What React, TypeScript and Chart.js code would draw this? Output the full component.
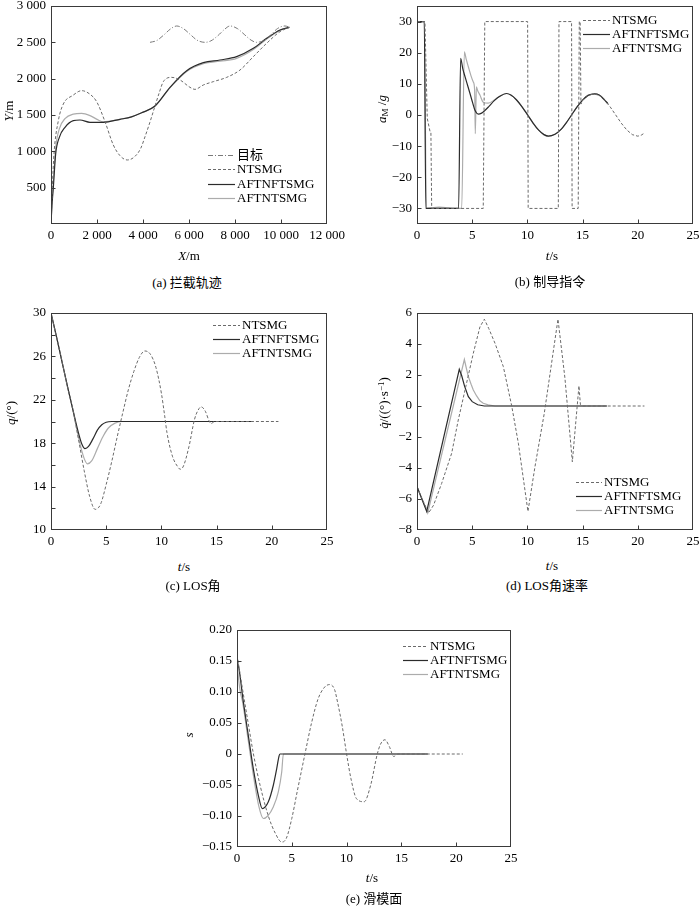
import React, { useEffect, useRef } from 'react';
import { Chart, registerables } from 'chart.js';

Chart.register(...registerables);

const FONT = '"Liberation Serif", "Times New Roman", "Noto Sans CJK SC", serif';

// ---------- (a) interception trajectory ----------
const A_TARGET_X = [4304, 4600, 4900, 5200, 5464, 5750, 6050, 6350, 6696, 6950, 7250, 7550, 7783, 8100, 8400, 8700, 8942, 9250, 9550, 9850, 10174, 10391];
const A_TARGET_Y = [2500, 2525, 2600, 2685, 2725, 2690, 2610, 2530, 2500, 2520, 2590, 2680, 2725, 2690, 2610, 2530, 2500, 2525, 2600, 2690, 2725, 2706];
const A_NTS_X = [0, 58, 130, 319, 536, 950, 1333, 1700, 1986, 2348, 2710, 3000, 3319, 3650, 3900, 4087, 4300, 4522, 4700, 4884, 5246, 5609, 6043, 6261, 6623, 7058, 7638, 8217, 8797, 9377, 9957, 10362];
const A_NTS_Y = [0, 500, 964, 1422, 1651, 1770, 1835, 1785, 1683, 1408, 1087, 940, 881, 930, 1040, 1201, 1400, 1624, 1800, 1959, 2018, 1982, 1881, 1853, 1913, 1959, 2018, 2119, 2303, 2487, 2647, 2706];
const A_AFTNF_X = [0, 40, 101, 203, 362, 609, 971, 1260, 1696, 2275, 3000, 3500, 3942, 4522, 5174, 5899, 6623, 7348, 8072, 8797, 9377, 9957, 10362];
const A_AFTNF_Y = [0, 250, 500, 964, 1193, 1330, 1422, 1431, 1399, 1399, 1441, 1475, 1530, 1624, 1881, 2110, 2220, 2257, 2303, 2417, 2555, 2670, 2706];
const A_AFTN_X = [0, 40, 101, 203, 362, 609, 971, 1333, 1696, 2000, 2275, 3000, 3500, 3942, 4522, 5174, 5899, 6623, 7348, 8072, 8797, 9377, 9957, 10362];
const A_AFTN_Y = [0, 270, 580, 1050, 1310, 1450, 1512, 1523, 1492, 1440, 1405, 1441, 1475, 1530, 1624, 1875, 2100, 2205, 2240, 2280, 2400, 2545, 2665, 2706];
const A_X_TICKS = [0, 2000, 4000, 6000, 8000, 10000, 12000];
const A_Y_TICKS = [0, 500, 1000, 1500, 2000, 2500, 3000];

// ---------- (b) guidance command ----------
const B_NTS_T = [0, 0.72, 0.93, 1.18, 1.26, 1.33, 6.0, 6.14, 10.02, 10.07, 12.8, 12.86, 14.0, 14.05, 14.6, 14.7, 14.78, 14.85, 15.0, 15.5, 16.0, 16.5, 17.0, 17.5, 18.0, 18.5, 19.0, 19.5, 20.0, 20.3, 20.6];
const B_NTS_A = [30, 30, -1.1, -5.3, -5.5, -30, -30, 30, 30, -30, -30, 30, 30, -30, -30, 30, 30, 3.5, 4.8, 6.2, 6.8, 6.3, 4.8, 2.6, 0, -2.6, -4.8, -6.3, -6.8, -6.5, -5.8];
const B_AFTNF_T = [0, 0.66, 0.8, 3.77, 3.95, 4.15, 4.35, 4.6, 4.8, 5.05, 5.25, 5.55, 5.85, 6.1, 6.5, 7.0, 7.5, 8.1, 8.5, 9.0, 9.5, 10.0, 10.5, 11.0, 11.5, 11.9, 12.5, 13.0, 13.5, 14.0, 14.5, 15.0, 15.5, 16.1, 16.5, 17.0, 17.3];
const B_AFTNF_A = [30, 30, -30, -30, 18.2, 14.8, 12.3, 9.3, 6.9, 3.8, 1.5, 0.3, 0.6, 1.3, 2.7, 4.6, 6.0, 6.9, 6.4, 4.9, 2.7, 0.1, -2.5, -4.8, -6.3, -6.8, -6.2, -4.8, -2.6, 0, 2.6, 4.8, 6.3, 6.8, 6.4, 4.8, 3.6];
const B_AFTN_T = [0, 0.66, 0.85, 1.5, 2.0, 2.6, 3.2, 4.05, 4.29, 4.45, 4.65, 4.9, 5.1, 5.22, 5.28, 5.38, 5.5, 5.7, 6.0, 6.45, 7.0, 7.5, 8.1, 8.5, 9.0, 9.5, 10.0, 10.5, 11.0, 11.5, 11.9, 12.5, 13.0, 13.5, 14.0, 14.5, 15.0, 15.5, 16.1, 16.5, 17.0, 17.3];
const B_AFTN_A = [30, 30, -30, -29.7, -29.6, -29.7, -30, -30, 20.3, 18.0, 15.5, 12.5, 10.6, 8.0, -6.0, 9.0, 7.8, 6.4, 4.1, 3.8, 4.8, 6.0, 6.9, 6.4, 4.9, 2.7, 0.1, -2.5, -4.8, -6.3, -6.8, -6.2, -4.8, -2.6, 0, 2.6, 4.8, 6.3, 6.8, 6.4, 4.8, 3.6];
const B_X_TICKS = [0, 5, 10, 15, 20, 25];
const B_Y_TICKS = [-30, -20, -10, 0, 10, 20, 30];

// ---------- (c) LOS angle ----------
const C_NTS_T = [0, 0.5, 1, 1.5, 2, 2.5, 3, 3.5, 4, 4.5, 5, 5.5, 6, 6.5, 7, 7.5, 8, 8.5, 9, 9.5, 10, 10.3, 10.5, 11, 11.5, 11.7, 12, 12.5, 13, 13.3, 13.6, 14, 14.3, 14.5, 14.8, 15.2, 20.6];
const C_NTS_Q = [30, 27.8, 25.5, 23.2, 21.0, 18.3, 15.5, 13.1, 11.9, 12.4, 14.2, 16.3, 18.6, 20.8, 22.9, 24.6, 25.9, 26.5, 26.2, 25.0, 22.6, 20.5, 19.0, 16.8, 15.8, 15.6, 15.9, 17.7, 20.2, 21.0, 21.35, 20.9, 20.1, 19.8, 20.0, 20.0, 20.0];
const C_AFTNF_T = [0, 0.5, 1, 1.5, 2, 2.5, 2.8, 3.08, 3.4, 3.8, 4.2, 4.6, 5, 5.5, 18.3];
const C_AFTNF_Q = [30, 27.8, 25.5, 23.2, 21.0, 18.9, 17.9, 17.5, 17.7, 18.4, 19.2, 19.7, 19.93, 20, 20];
const C_AFTN_T = [0, 0.5, 1, 1.5, 2, 2.5, 3, 3.3, 3.7, 4.2, 4.7, 5.2, 5.8, 6.4, 18.3];
const C_AFTN_Q = [30, 27.8, 25.5, 23.2, 21.0, 18.5, 16.6, 16.1, 16.4, 17.5, 18.6, 19.4, 19.85, 20, 20];
const C_X_TICKS = [0, 5, 10, 15, 20, 25];
const C_Y_TICKS = [10, 12, 14, 16, 18, 20, 22, 24, 26, 28, 30];
const C_Y_LABELED = [10, 14, 18, 22, 26, 30];

// ---------- (d) LOS rate ----------
const D_NTS_T = [0, 0.5, 1.05, 1.5, 2.23, 3.14, 3.74, 4.35, 5.1, 5.7, 6.1, 6.5, 7.07, 7.82, 8.58, 9.18, 10.05, 10.69, 11.53, 12.77, 13.4, 14.07, 14.67, 14.8, 15.0, 20.6];
const D_NTS_V = [-5.2, -6.05, -6.9, -6.4, -5.0, -3.05, -0.9, 1.03, 3.4, 5.1, 5.6, 5.0, 4.04, 2.54, 0, -2.4, -6.8, -3.9, -0.47, 5.6, 1.8, -3.6, 1.3, 0.1, 0, 0];
const D_AFTNF_T = [0, 0.88, 3.83, 4.05, 4.3, 4.65, 5.0, 5.5, 6.1, 17.2];
const D_AFTNF_V = [-5.2, -6.8, 2.37, 1.95, 1.3, 0.6, 0.28, 0.08, 0, 0];
const D_AFTN_T = [0, 0.97, 4.29, 4.45, 4.65, 4.9, 5.1, 5.4, 5.7, 6.0, 6.45, 7.06, 17.2];
const D_AFTN_V = [-5.2, -6.9, 3.0, 2.5, 1.9, 1.4, 1.03, 0.65, 0.34, 0.18, 0.07, 0, 0];
const D_X_TICKS = [0, 5, 10, 15, 20, 25];
const D_Y_TICKS = [-8, -6, -4, -2, 0, 2, 4, 6];

// ---------- (e) sliding surface ----------
const E_NTS_T = [0, 0.5, 1.0, 1.5, 2.1, 2.86, 3.5, 4.08, 4.5, 5.0, 5.5, 6.2, 6.8, 7.4, 8.0, 8.45, 8.9, 9.17, 9.6, 10.0, 10.4, 10.9, 11.6, 12.2, 12.8, 13.1, 13.5, 13.9, 14.3, 14.7, 15.0, 20.6];
const E_NTS_S = [0.16, 0.105, 0.052, 0.0, -0.05, -0.10, -0.128, -0.142, -0.136, -0.104, -0.06, 0, 0.05, 0.089, 0.108, 0.112, 0.104, 0.084, 0.045, 0, -0.04, -0.072, -0.077, -0.05, 0, 0.016, 0.023, 0.012, -0.004, 0, 0, 0];
const E_AFTNF_T = [0, 0.05, 0.18, 0.58, 1.03, 1.49, 1.95, 2.31, 2.86, 3.32, 3.62, 3.84, 3.93, 17.4];
const E_AFTNF_S = [0.165, 0.15, 0.138, 0.084, 0.030, -0.024, -0.067, -0.088, -0.077, -0.050, -0.024, -0.003, 0, 0];
const E_AFTN_T = [0, 0.15, 0.3, 0.5, 1.0, 1.5, 2.0, 2.4, 2.8, 3.32, 3.77, 4.08, 4.23, 17.4];
const E_AFTN_S = [0.15, 0.12, 0.1, 0.085, 0.025, -0.035, -0.085, -0.104, -0.1, -0.085, -0.061, -0.029, 0, 0];
const E_X_TICKS = [0, 5, 10, 15, 20, 25];
const E_Y_TICKS = [-0.15, -0.1, -0.05, 0, 0.05, 0.1, 0.15, 0.2];

// ---------- styles ----------
const STYLE: Record<string, { color: string; width: number; dash: number[] }> = {
  target: { color: '#7a7a7a', width: 1, dash: [5, 2, 1, 2] },
  nts: { color: '#6a6a6a', width: 1, dash: [3, 2] },
  aftnf: { color: '#2b2b2b', width: 1.2, dash: [] },
  aftn: { color: '#acacac', width: 1.2, dash: [] },
};

const minus = (s: string) => s.replace('-', '\u2212');
const thousands = (v: number) => {
  if (Math.abs(v) < 1000) return String(v);
  const k = Math.floor(v / 1000);
  const r = String(v % 1000).padStart(3, '0');
  return `${k} ${r}`;
};

type Series = { label: string; x: number[]; y: number[]; style: string; smooth: boolean };
type PanelSpec = {
  L: number; T: number; R: number; B: number;
  xMin: number; xMax: number; yMin: number; yMax: number;
  xTicks: number[]; yTicks: number[];
  xFmt: (v: number) => string; yFmt: (v: number) => string;
  series: Series[];
  legend: { x0: number; x1: number; tx: number; y: number; dy: number };
};

const PADL = 52, PADT = 12, PADR = 26, PADB = 24;

const frameTicks = {
  id: 'frameTicks',
  afterDraw(chart: any) {
    const { ctx, chartArea: a, scales } = chart;
    ctx.save();
    ctx.strokeStyle = '#3a3a3a';
    ctx.lineWidth = 1;
    ctx.setLineDash([]);
    const l = Math.round(a.left) + 0.5, t = Math.round(a.top) + 0.5;
    const r = Math.round(a.right) - 0.5, b = Math.round(a.bottom) - 0.5;
    ctx.strokeRect(l, t, r - l, b - t);
    ctx.beginPath();
    for (const tk of scales.x.ticks) {
      const px = Math.round(scales.x.getPixelForValue(tk.value)) + 0.5;
      if (px <= l + 1 || px >= r - 1) continue;
      ctx.moveTo(px, b); ctx.lineTo(px, b - 4);
    }
    for (const tk of scales.y.ticks) {
      const py = Math.round(scales.y.getPixelForValue(tk.value)) + 0.5;
      if (py <= t + 1 || py >= b - 1) continue;
      ctx.moveTo(l, py); ctx.lineTo(l + 4, py);
    }
    ctx.stroke();
    ctx.restore();
  },
};

const inLegend = {
  id: 'inLegend',
  afterDatasetsDraw(chart: any, _args: any, opts: any) {
    const { ctx, chartArea: a } = chart;
    ctx.save();
    chart.data.datasets.forEach((ds: any, i: number) => {
      const y = Math.round(a.top + opts.y + i * opts.dy) + 0.5;
      ctx.beginPath();
      ctx.setLineDash(ds.borderDash || []);
      ctx.strokeStyle = ds.borderColor;
      ctx.lineWidth = ds.borderWidth;
      ctx.moveTo(a.left + opts.x0, y);
      ctx.lineTo(a.left + opts.x1, y);
      ctx.stroke();
      ctx.setLineDash([]);
      ctx.fillStyle = '#000';
      ctx.font = `13px ${FONT}`;
      ctx.textBaseline = 'middle';
      ctx.textAlign = 'left';
      ctx.fillText(ds.label, a.left + opts.tx, y + 0.5);
    });
    ctx.restore();
  },
};

function Panel({ spec }: { spec: PanelSpec }) {
  const ref = useRef<HTMLCanvasElement | null>(null);
  const w = spec.R - spec.L + PADL + PADR;
  const h = spec.B - spec.T + PADT + PADB;
  useEffect(() => {
    if (!ref.current) return;
    const tickFont = { family: FONT, size: 13 };
    const chart = new Chart(ref.current, {
      type: 'line',
      data: {
        datasets: spec.series.map((s) => ({
          label: s.label,
          data: s.x.map((x, i) => ({ x, y: s.y[i] })),
          borderColor: STYLE[s.style].color,
          borderWidth: STYLE[s.style].width,
          borderDash: STYLE[s.style].dash,
          pointRadius: 0,
          fill: false,
          tension: 0,
          cubicInterpolationMode: s.smooth ? 'monotone' : 'default',
        })),
      } as any,
      options: {
        animation: false,
        responsive: false,
        maintainAspectRatio: false,
        events: [],
        layout: { padding: { top: PADT, right: PADR, left: 0, bottom: 0 } },
        plugins: {
          legend: { display: false },
          tooltip: { enabled: false },
          inLegend: spec.legend,
        } as any,
        scales: {
          x: {
            type: 'linear',
            min: spec.xMin,
            max: spec.xMax,
            grid: { display: false, drawTicks: false, tickLength: 0 },
            border: { display: false },
            afterBuildTicks: (s: any) => { s.ticks = spec.xTicks.map((v) => ({ value: v })); },
            afterFit: (s: any) => { s.height = PADB; s.paddingLeft = 0; s.paddingRight = 0; },
            ticks: {
              font: tickFont, color: '#000', padding: 4, maxRotation: 0, autoSkip: false,
              callback: (v: any) => spec.xFmt(Number(v)),
            },
          },
          y: {
            type: 'linear',
            min: spec.yMin,
            max: spec.yMax,
            grid: { display: false, drawTicks: false, tickLength: 0 },
            border: { display: false },
            afterBuildTicks: (s: any) => { s.ticks = spec.yTicks.map((v) => ({ value: v })); },
            afterFit: (s: any) => { s.width = PADL; s.paddingTop = 0; s.paddingBottom = 0; },
            ticks: {
              font: tickFont, color: '#000', padding: 5, autoSkip: false,
              callback: (v: any) => spec.yFmt(Number(v)),
            },
          },
        } as any,
      },
      plugins: [frameTicks, inLegend],
    } as any);
    return () => chart.destroy();
  }, [spec]);
  return (
    <canvas
      ref={ref}
      width={w}
      height={h}
      style={{ position: 'absolute', left: spec.L - PADL, top: spec.T - PADT, width: w, height: h }}
    />
  );
}

const numFmt = (v: number) => minus(String(v));

const PANELS: PanelSpec[] = [
  {
    L: 51, T: 6, R: 327, B: 224, xMin: 0, xMax: 12000, yMin: 0, yMax: 3000,
    xTicks: A_X_TICKS, yTicks: A_Y_TICKS,
    xFmt: (v) => thousands(v), yFmt: (v) => (v === 0 ? '' : thousands(v)),
    series: [
      { label: '目标', x: A_TARGET_X, y: A_TARGET_Y, style: 'target', smooth: true },
      { label: 'NTSMG', x: A_NTS_X, y: A_NTS_Y, style: 'nts', smooth: true },
      { label: 'AFTNFTSMG', x: A_AFTNF_X, y: A_AFTNF_Y, style: 'aftnf', smooth: true },
      { label: 'AFTNTSMG', x: A_AFTN_X, y: A_AFTN_Y, style: 'aftn', smooth: true },
    ],
    legend: { x0: 157, x1: 184, tx: 186, y: 149, dy: 14.3 },
  },
  {
    L: 417, T: 6, R: 693, B: 224, xMin: 0, xMax: 25, yMin: -35, yMax: 35,
    xTicks: B_X_TICKS, yTicks: B_Y_TICKS,
    xFmt: numFmt, yFmt: numFmt,
    series: [
      { label: 'NTSMG', x: B_NTS_T, y: B_NTS_A, style: 'nts', smooth: false },
      { label: 'AFTNFTSMG', x: B_AFTNF_T, y: B_AFTNF_A, style: 'aftnf', smooth: true },
      { label: 'AFTNTSMG', x: B_AFTN_T, y: B_AFTN_A, style: 'aftn', smooth: true },
    ],
    legend: { x0: 166, x1: 193, tx: 195, y: 14, dy: 14.2 },
  },
  {
    L: 51, T: 313, R: 327, B: 530, xMin: 0, xMax: 25, yMin: 10, yMax: 30,
    xTicks: C_X_TICKS, yTicks: C_Y_TICKS,
    xFmt: numFmt, yFmt: (v) => (C_Y_LABELED.includes(v) ? String(v) : ''),
    series: [
      { label: 'NTSMG', x: C_NTS_T, y: C_NTS_Q, style: 'nts', smooth: true },
      { label: 'AFTNFTSMG', x: C_AFTNF_T, y: C_AFTNF_Q, style: 'aftnf', smooth: true },
      { label: 'AFTNTSMG', x: C_AFTN_T, y: C_AFTN_Q, style: 'aftn', smooth: true },
    ],
    legend: { x0: 162, x1: 189, tx: 191, y: 12, dy: 14.2 },
  },
  {
    L: 417, T: 313, R: 693, B: 530, xMin: 0, xMax: 25, yMin: -8, yMax: 6,
    xTicks: D_X_TICKS, yTicks: D_Y_TICKS,
    xFmt: numFmt, yFmt: numFmt,
    series: [
      { label: 'NTSMG', x: D_NTS_T, y: D_NTS_V, style: 'nts', smooth: false },
      { label: 'AFTNFTSMG', x: D_AFTNF_T, y: D_AFTNF_V, style: 'aftnf', smooth: false },
      { label: 'AFTNTSMG', x: D_AFTN_T, y: D_AFTN_V, style: 'aftn', smooth: false },
    ],
    legend: { x0: 159, x1: 185, tx: 187, y: 169, dy: 13.8 },
  },
  {
    L: 237, T: 630, R: 511, B: 847, xMin: 0, xMax: 25, yMin: -0.15, yMax: 0.2,
    xTicks: E_X_TICKS, yTicks: E_Y_TICKS,
    xFmt: numFmt, yFmt: (v) => (Math.abs(v) < 1e-9 ? '0' : minus(v.toFixed(2))),
    series: [
      { label: 'NTSMG', x: E_NTS_T, y: E_NTS_S, style: 'nts', smooth: true },
      { label: 'AFTNFTSMG', x: E_AFTNF_T, y: E_AFTNF_S, style: 'aftnf', smooth: true },
      { label: 'AFTNTSMG', x: E_AFTN_T, y: E_AFTN_S, style: 'aftn', smooth: true },
    ],
    legend: { x0: 166, x1: 191, tx: 193, y: 16, dy: 14.2 },
  },
];

function Txt({ x, y, rot, children }: { x: number; y: number; rot?: boolean; children: React.ReactNode }) {
  return (
    <div
      style={{
        position: 'absolute', left: x, top: y, whiteSpace: 'nowrap', fontSize: 13, lineHeight: '15px',
        fontFamily: FONT, color: '#000',
        transform: `translate(-50%, -50%)${rot ? ' rotate(-90deg)' : ''}`,
      }}
    >
      {children}
    </div>
  );
}

const ts = (<span><i>t</i>/s</span>);

export default function App() {
  return (
    <div style={{ position: 'absolute', left: 0, top: 0, width: 700, height: 907, background: '#fff', fontFamily: FONT }}>
      {PANELS.map((p, i) => (<Panel key={i} spec={p} />))}
      {/* axis titles */}
      <Txt x={8} y={111} rot><i>Y</i>/m</Txt>
      <Txt x={189} y={255}><i>X</i>/m</Txt>
      <Txt x={383} y={109} rot><i>a</i><sub style={{ fontSize: 9, verticalAlign: '-2px' }}>M</sub>&nbsp;/<i>g</i></Txt>
      <Txt x={552} y={255}>{ts}</Txt>
      <Txt x={10} y={413} rot><i>q</i>/(°)</Txt>
      <Txt x={184} y={566}>{ts}</Txt>
      <Txt x={382} y={403} rot><i>q̇</i>/((°)·s<sup style={{ fontSize: 9, verticalAlign: '4px' }}>−1</sup>)</Txt>
      <Txt x={552} y={565}>{ts}</Txt>
      <Txt x={188} y={735} rot><i>s</i></Txt>
      <Txt x={372} y={877}>{ts}</Txt>
      {/* captions */}
      <Txt x={187} y={282}>(a) 拦截轨迹</Txt>
      <Txt x={550} y={281}>(b) 制导指令</Txt>
      <Txt x={193} y={585}>(c) LOS角</Txt>
      <Txt x={547} y={585}>(d) LOS角速率</Txt>
      <Txt x={374} y={898}>(e) 滑模面</Txt>
    </div>
  );
}
